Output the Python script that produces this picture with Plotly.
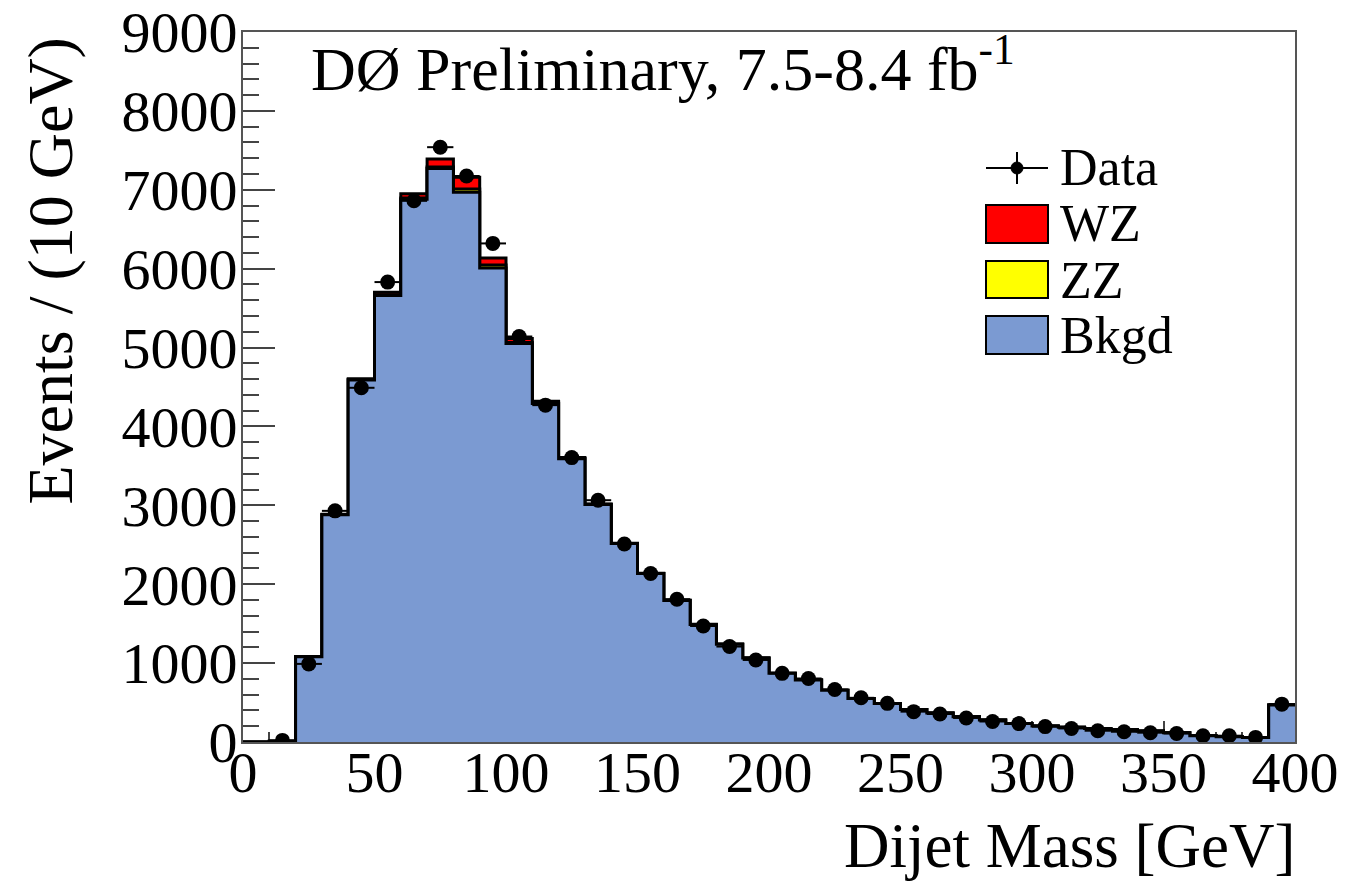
import numpy as np
import plotly.graph_objects as go

# ---------------- data ----------------
bin_edges = list(range(0, 410, 10))          # 40 bins of 10 GeV, 0-400 GeV
bkgd = [0, 10, 1080, 2880, 4590, 5660, 6880, 7270, 6970, 6010,
        5050, 4290, 3590, 3010, 2515, 2135, 1795, 1490, 1240, 1065,
        870, 785, 655, 550, 488, 412, 368, 320, 280, 236,
        203, 186, 172, 160, 139, 118, 78, 68, 58, 470]
zz = [0, 0, 0, 2, 5, 10, 15, 20, 40, 35,
      15, 8, 5, 3, 2, 1, 1, 1, 0, 0,
      0, 0, 0, 0, 0, 0, 0, 0, 0, 0,
      0, 0, 0, 0, 0, 0, 0, 0, 0, 0]
wz = [0, 0, 3, 5, 10, 30, 55, 100, 150, 90,
      50, 20, 10, 5, 3, 2, 1, 1, 1, 0,
      0, 0, 0, 0, 0, 0, 0, 0, 0, 0,
      0, 0, 0, 0, 0, 0, 0, 0, 0, 0]
data = [None, 20, 990, 2930, 4490, 5830, 6860, 7540, 7175, 6320,
        5140, 4270, 3605, 3065, 2510, 2135, 1810, 1470, 1210, 1040,
        870, 805, 665, 560, 490, 385, 355, 305, 260, 233,
        195, 172, 143, 130, 118, 108, 80, 80, 58, 480]
x_ticks = [0, 50, 100, 150, 200, 250, 300, 350, 400]
y_ticks = [0, 1000, 2000, 3000, 4000, 5000, 6000, 7000, 8000, 9000]

# ---------------- geometry helpers ----------------
W, H = 1350, 881
L, R, T, B = 243, 55, 32, 139
PW, PH = W - L - R, H - T - B


def px(x):
    return (x - L) / PW


def py(y):
    return (H - B - y) / PH


FONT = "Liberation Serif"

bk = np.array(bkgd, float)
cum_zz = bk + np.array(zz, float)
cum_wz = cum_zz + np.array(wz, float)


def step_y(vals):
    v = list(vals)
    return v + [v[-1]]


fig = go.Figure()
for vals, col, name in [(cum_wz, "#ff0000", "WZ"),
                        (cum_zz, "#ffff00", "ZZ"),
                        (bk, "#7b9ad2", "Bkgd")]:
    fig.add_trace(go.Scatter(
        x=bin_edges, y=step_y(vals), mode="lines", name=name,
        line=dict(shape="hv", color="black", width=3),
        fill="tozeroy", fillcolor=col, showlegend=False,
        hoverinfo="skip"))

centers = [(bin_edges[i] + bin_edges[i + 1]) / 2 for i in range(len(data)) if data[i] is not None]
dvals = [d for d in data if d is not None]
fig.add_trace(go.Scatter(
    x=centers, y=dvals, mode="markers", name="Data", showlegend=False,
    marker=dict(symbol="circle", size=15, color="black"),
    error_y=dict(type="data", array=list(np.sqrt(dvals)), color="black", thickness=2, width=0),
    error_x=dict(type="constant", value=5, color="black", thickness=2, width=0)))

axis_common = dict(
    showgrid=False, zeroline=False, showline=True, linecolor="#555555", linewidth=2,
    mirror=True, ticks="inside", tickcolor="#444444", tickwidth=1.5,
    tickfont=dict(family=FONT, size=58, color="black"),
)

fig.update_layout(
    width=W, height=H,
    margin=dict(l=L, r=R, t=T, b=B, pad=0, autoexpand=False),
    paper_bgcolor="white", plot_bgcolor="white",
    xaxis=dict(range=[0, 400], tickvals=x_ticks, ticklen=21, layer="below traces",
               ticklabelstandoff=-22,
               minor=dict(dtick=10, ticklen=10, ticks="inside", tickcolor="#444444", tickwidth=1.5),
               **axis_common),
    yaxis=dict(range=[0, 9000], tickvals=y_ticks, ticklen=32, ticklabelstandoff=-8,
               minor=dict(dtick=200, ticklen=16, ticks="inside", tickcolor="#444444", tickwidth=1.5),
               **axis_common),
    showlegend=False,
)

annotations = [
    dict(text="DØ Preliminary, 7.5-8.4 fb<sup>-1</sup>", x=px(309), y=py(64),
         xanchor="left", yanchor="middle", font=dict(family=FONT, size=62, color="black")),
    dict(text="Dijet Mass [GeV]", x=px(1297), y=py(846), xanchor="right", yanchor="middle",
         font=dict(family=FONT, size=63, color="black")),
    dict(text="Events / (10 GeV)", x=px(50), y=py(36), xanchor="center", yanchor="top",
         textangle=-90, font=dict(family=FONT, size=64, color="black")),
]
leg_y = [168, 224, 280, 335]
leg_names = ["Data", "WZ", "ZZ", "Bkgd"]
for yy, nm in zip(leg_y, leg_names):
    annotations.append(dict(text=nm, x=px(1058), y=py(yy), xanchor="left", yanchor="middle",
                            font=dict(family=FONT, size=52, color="black")))
for a in annotations:
    a.update(xref="paper", yref="paper", showarrow=False)
fig.update_layout(annotations=annotations)

shapes = []
# Data legend symbol: cross + dot
shapes.append(dict(type="line", x0=px(986), x1=px(1048), y0=py(168), y1=py(168),
                   line=dict(color="black", width=2)))
shapes.append(dict(type="line", x0=px(1017), x1=px(1017), y0=py(152), y1=py(184),
                   line=dict(color="black", width=2)))
shapes.append(dict(type="circle", x0=px(1011), x1=px(1023), y0=py(174), y1=py(162),
                   fillcolor="black", line=dict(color="black", width=1)))
for (y0, y1), col in zip([(205, 243), (261, 298), (316, 354)], ["#ff0000", "#ffff00", "#7b9ad2"]):
    shapes.append(dict(type="rect", x0=px(986), x1=px(1048), y0=py(y1), y1=py(y0),
                       fillcolor=col, line=dict(color="black", width=2)))
for s in shapes:
    s.update(xref="paper", yref="paper")
fig.update_layout(shapes=shapes)

fig.write_html("out.html")
